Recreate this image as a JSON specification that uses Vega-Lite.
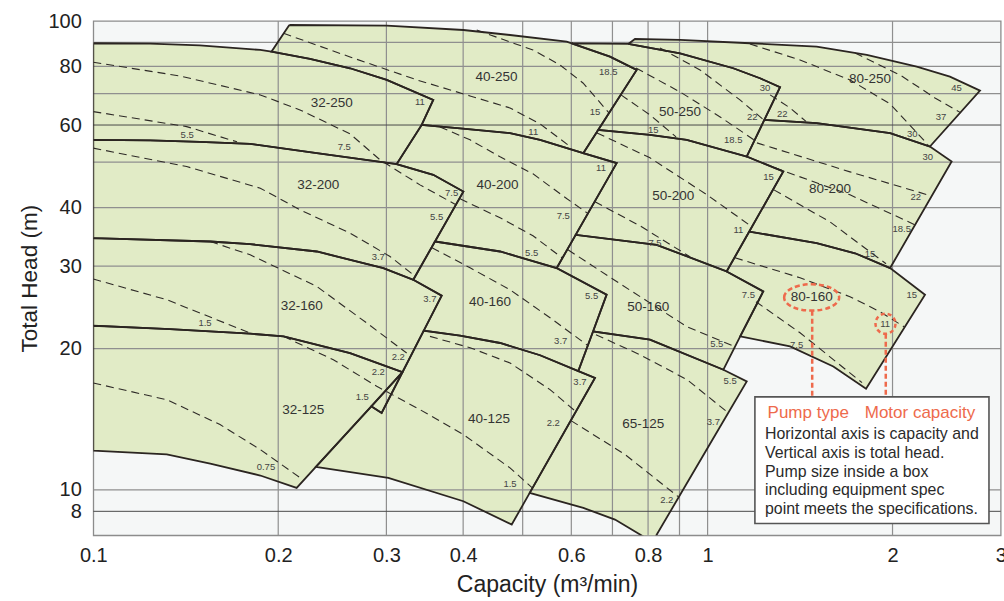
{
"$schema": "https://vega.github.io/schema/vega-lite/v6.json",
"width": 907.4, "height": 514.3,
"autosize": "none",
"padding": {"left": 93.3, "top": 21, "right": 3.3, "bottom": 65.7},
"background": "#ffffff",
"config": {"view": {"fill": "#f5f7f7", "stroke": "#8c8c8c", "strokeWidth": 1.3}, "font": "Liberation Sans"},
"datasets": {
"poly": [
{"pump":"32-250","i":0,"q":0.1,"h":89.65},{"pump":"32-250","i":1,"q":0.1237,"h":89.46},{"pump":"32-250","i":2,"q":0.149,"h":88.76},{"pump":"32-250","i":3,"q":0.187,"h":86.74},{"pump":"32-250","i":4,"q":0.195,"h":86.01},{"pump":"32-250","i":5,"q":0.2253,"h":83.0},{"pump":"32-250","i":6,"q":0.2618,"h":79.29},{"pump":"32-250","i":7,"q":0.3004,"h":74.87},{"pump":"32-250","i":8,"q":0.3576,"h":67.87},{"pump":"32-250","i":9,"q":0.3424,"h":60.03},{"pump":"32-250","i":10,"q":0.3118,"h":49.52},{"pump":"32-250","i":11,"q":0.2311,"h":52.26},{"pump":"32-250","i":12,"q":0.18,"h":54.7},{"pump":"32-250","i":13,"q":0.149,"h":55.24},{"pump":"32-250","i":14,"q":0.1237,"h":55.65},{"pump":"32-250","i":15,"q":0.1,"h":55.78},{"pump":"32-250","i":16,"q":0.1,"h":89.65},
{"pump":"32-200","i":0,"q":0.1,"h":55.78},{"pump":"32-200","i":1,"q":0.1237,"h":55.65},{"pump":"32-200","i":2,"q":0.149,"h":55.24},{"pump":"32-200","i":3,"q":0.18,"h":54.7},{"pump":"32-200","i":4,"q":0.2311,"h":52.26},{"pump":"32-200","i":5,"q":0.3118,"h":49.52},{"pump":"32-200","i":6,"q":0.3576,"h":46.98},{"pump":"32-200","i":7,"q":0.4003,"h":43.27},{"pump":"32-200","i":8,"q":0.3599,"h":33.86},{"pump":"32-200","i":9,"q":0.3318,"h":28.06},{"pump":"32-200","i":10,"q":0.2966,"h":29.72},{"pump":"32-200","i":11,"q":0.2311,"h":32.24},{"pump":"32-200","i":12,"q":0.18,"h":33.43},{"pump":"32-200","i":13,"q":0.155,"h":33.86},{"pump":"32-200","i":14,"q":0.1,"h":34.43},{"pump":"32-200","i":15,"q":0.1,"h":55.78},
{"pump":"32-160","i":0,"q":0.1,"h":34.43},{"pump":"32-160","i":1,"q":0.155,"h":33.86},{"pump":"32-160","i":2,"q":0.18,"h":33.43},{"pump":"32-160","i":3,"q":0.2311,"h":32.24},{"pump":"32-160","i":4,"q":0.2966,"h":29.72},{"pump":"32-160","i":5,"q":0.3318,"h":28.06},{"pump":"32-160","i":6,"q":0.3691,"h":25.95},{"pump":"32-160","i":7,"q":0.3451,"h":21.85},{"pump":"32-160","i":8,"q":0.3186,"h":17.82},{"pump":"32-160","i":9,"q":0.2947,"h":14.59},{"pump":"32-160","i":10,"q":0.2835,"h":15.07},{"pump":"32-160","i":11,"q":0.3186,"h":17.82},{"pump":"32-160","i":12,"q":0.2618,"h":19.58},{"pump":"32-160","i":13,"q":0.204,"h":21.25},{"pump":"32-160","i":14,"q":0.18,"h":21.53},{"pump":"32-160","i":15,"q":0.1333,"h":22.01},{"pump":"32-160","i":16,"q":0.1,"h":22.39},{"pump":"32-160","i":17,"q":0.1,"h":34.43},
{"pump":"32-125","i":0,"q":0.1,"h":22.39},{"pump":"32-125","i":1,"q":0.1333,"h":22.01},{"pump":"32-125","i":2,"q":0.18,"h":21.53},{"pump":"32-125","i":3,"q":0.204,"h":21.25},{"pump":"32-125","i":4,"q":0.2618,"h":19.58},{"pump":"32-125","i":5,"q":0.3186,"h":17.82},{"pump":"32-125","i":6,"q":0.2835,"h":15.07},{"pump":"32-125","i":7,"q":0.2303,"h":11.19},{"pump":"32-125","i":8,"q":0.2143,"h":10.1},{"pump":"32-125","i":9,"q":0.187,"h":10.73},{"pump":"32-125","i":10,"q":0.155,"h":11.37},{"pump":"32-125","i":11,"q":0.1317,"h":11.9},{"pump":"32-125","i":12,"q":0.1,"h":12.13},{"pump":"32-125","i":13,"q":0.1,"h":22.39},
{"pump":"40-250","i":0,"q":0.2085,"h":98.06},{"pump":"40-250","i":1,"q":0.3004,"h":97.72},{"pump":"40-250","i":2,"q":0.4003,"h":95.68},{"pump":"40-250","i":3,"q":0.4768,"h":93.36},{"pump":"40-250","i":4,"q":0.5896,"h":90.34},{"pump":"40-250","i":5,"q":0.6008,"h":89.6},{"pump":"40-250","i":6,"q":0.6935,"h":83.94},{"pump":"40-250","i":7,"q":0.7666,"h":78.64},{"pump":"40-250","i":8,"q":0.6635,"h":58.58},{"pump":"40-250","i":9,"q":0.6275,"h":52.26},{"pump":"40-250","i":10,"q":0.5337,"h":55.78},{"pump":"40-250","i":11,"q":0.4768,"h":57.64},{"pump":"40-250","i":12,"q":0.3954,"h":59.01},{"pump":"40-250","i":13,"q":0.3424,"h":60.03},{"pump":"40-250","i":14,"q":0.3576,"h":67.87},{"pump":"40-250","i":15,"q":0.3004,"h":74.87},{"pump":"40-250","i":16,"q":0.2618,"h":79.29},{"pump":"40-250","i":17,"q":0.2253,"h":83.0},{"pump":"40-250","i":18,"q":0.195,"h":86.01},{"pump":"40-250","i":19,"q":0.2085,"h":98.06},
{"pump":"40-200","i":0,"q":0.3424,"h":60.03},{"pump":"40-200","i":1,"q":0.3954,"h":59.01},{"pump":"40-200","i":2,"q":0.4768,"h":57.64},{"pump":"40-200","i":3,"q":0.5337,"h":55.78},{"pump":"40-200","i":4,"q":0.6275,"h":52.26},{"pump":"40-200","i":5,"q":0.7112,"h":49.76},{"pump":"40-200","i":6,"q":0.6099,"h":34.99},{"pump":"40-200","i":7,"q":0.568,"h":29.72},{"pump":"40-200","i":8,"q":0.4594,"h":32.24},{"pump":"40-200","i":9,"q":0.3599,"h":33.86},{"pump":"40-200","i":10,"q":0.4003,"h":43.27},{"pump":"40-200","i":11,"q":0.3576,"h":46.98},{"pump":"40-200","i":12,"q":0.3118,"h":49.52},{"pump":"40-200","i":13,"q":0.3424,"h":60.03},
{"pump":"40-160","i":0,"q":0.3599,"h":33.86},{"pump":"40-160","i":1,"q":0.4594,"h":32.24},{"pump":"40-160","i":2,"q":0.568,"h":29.72},{"pump":"40-160","i":3,"q":0.6849,"h":26.08},{"pump":"40-160","i":4,"q":0.6509,"h":21.77},{"pump":"40-160","i":5,"q":0.6159,"h":17.92},{"pump":"40-160","i":6,"q":0.5337,"h":19.37},{"pump":"40-160","i":7,"q":0.4594,"h":20.57},{"pump":"40-160","i":8,"q":0.3954,"h":21.32},{"pump":"40-160","i":9,"q":0.3451,"h":21.85},{"pump":"40-160","i":10,"q":0.3691,"h":25.95},{"pump":"40-160","i":11,"q":0.3318,"h":28.06},{"pump":"40-160","i":12,"q":0.3599,"h":33.86},
{"pump":"40-125","i":0,"q":0.3451,"h":21.85},{"pump":"40-125","i":1,"q":0.3954,"h":21.32},{"pump":"40-125","i":2,"q":0.4594,"h":20.57},{"pump":"40-125","i":3,"q":0.5337,"h":19.37},{"pump":"40-125","i":4,"q":0.6159,"h":17.92},{"pump":"40-125","i":5,"q":0.6556,"h":17.32},{"pump":"40-125","i":6,"q":0.5134,"h":9.854},{"pump":"40-125","i":7,"q":0.4799,"h":8.434},{"pump":"40-125","i":8,"q":0.4003,"h":9.456},{"pump":"40-125","i":9,"q":0.3022,"h":10.61},{"pump":"40-125","i":10,"q":0.2303,"h":11.19},{"pump":"40-125","i":11,"q":0.2835,"h":15.07},{"pump":"40-125","i":12,"q":0.2947,"h":14.59},{"pump":"40-125","i":13,"q":0.3451,"h":21.85},
{"pump":"50-250","i":0,"q":0.6008,"h":89.6},{"pump":"50-250","i":1,"q":0.7428,"h":89.34},{"pump":"50-250","i":2,"q":0.9018,"h":85.34},{"pump":"50-250","i":3,"q":1.101,"h":79.29},{"pump":"50-250","i":4,"q":1.217,"h":75.5},{"pump":"50-250","i":5,"q":1.312,"h":72.24},{"pump":"50-250","i":6,"q":1.237,"h":61.52},{"pump":"50-250","i":7,"q":1.158,"h":51.4},{"pump":"50-250","i":8,"q":0.9247,"h":55.78},{"pump":"50-250","i":9,"q":0.8057,"h":57.17},{"pump":"50-250","i":10,"q":0.6635,"h":58.58},{"pump":"50-250","i":11,"q":0.7666,"h":78.64},{"pump":"50-250","i":12,"q":0.6935,"h":83.94},{"pump":"50-250","i":13,"q":0.6008,"h":89.6},
{"pump":"50-200","i":0,"q":0.6635,"h":58.58},{"pump":"50-200","i":1,"q":0.8057,"h":57.17},{"pump":"50-200","i":2,"q":0.9247,"h":55.78},{"pump":"50-200","i":3,"q":1.158,"h":51.4},{"pump":"50-200","i":4,"q":1.328,"h":47.75},{"pump":"50-200","i":5,"q":1.169,"h":35.56},{"pump":"50-200","i":6,"q":1.074,"h":29.23},{"pump":"50-200","i":7,"q":0.8262,"h":33.32},{"pump":"50-200","i":8,"q":0.6099,"h":34.99},{"pump":"50-200","i":9,"q":0.7112,"h":49.76},{"pump":"50-200","i":10,"q":0.6275,"h":52.26},{"pump":"50-200","i":11,"q":0.6635,"h":58.58},
{"pump":"50-160","i":0,"q":0.6099,"h":34.99},{"pump":"50-160","i":1,"q":0.8262,"h":33.32},{"pump":"50-160","i":2,"q":1.074,"h":29.23},{"pump":"50-160","i":3,"q":1.232,"h":26.5},{"pump":"50-160","i":4,"q":1.13,"h":21.25},{"pump":"50-160","i":5,"q":1.061,"h":18.04},{"pump":"50-160","i":6,"q":0.8057,"h":20.91},{"pump":"50-160","i":7,"q":0.6509,"h":21.77},{"pump":"50-160","i":8,"q":0.6849,"h":26.08},{"pump":"50-160","i":9,"q":0.568,"h":29.72},{"pump":"50-160","i":10,"q":0.6099,"h":34.99},
{"pump":"65-125","i":0,"q":0.6509,"h":21.77},{"pump":"65-125","i":1,"q":0.8057,"h":20.91},{"pump":"65-125","i":2,"q":1.061,"h":18.04},{"pump":"65-125","i":3,"q":1.158,"h":17.04},{"pump":"65-125","i":4,"q":0.9966,"h":12.19},{"pump":"65-125","i":5,"q":0.813,"h":7.74},{"pump":"65-125","i":6,"q":0.7762,"h":8.03},{"pump":"65-125","i":7,"q":0.7067,"h":8.643},{"pump":"65-125","i":8,"q":0.6275,"h":9.154},{"pump":"65-125","i":9,"q":0.5134,"h":9.854},{"pump":"65-125","i":10,"q":0.6556,"h":17.32},{"pump":"65-125","i":11,"q":0.6159,"h":17.92},{"pump":"65-125","i":12,"q":0.6509,"h":21.77},
{"pump":"80-250","i":0,"q":0.7428,"h":89.34},{"pump":"80-250","i":1,"q":0.7617,"h":91.55},{"pump":"80-250","i":2,"q":0.9018,"h":91.11},{"pump":"80-250","i":3,"q":1.172,"h":89.65},{"pump":"80-250","i":4,"q":1.505,"h":88.15},{"pump":"80-250","i":5,"q":1.816,"h":84.64},{"pump":"80-250","i":6,"q":2.19,"h":79.92},{"pump":"80-250","i":7,"q":2.48,"h":76.09},{"pump":"80-250","i":8,"q":2.776,"h":71.05},{"pump":"80-250","i":9,"q":2.301,"h":53.98},{"pump":"80-250","i":10,"q":1.982,"h":57.64},{"pump":"80-250","i":11,"q":1.505,"h":60.54},{"pump":"80-250","i":12,"q":1.237,"h":61.52},{"pump":"80-250","i":13,"q":1.312,"h":72.24},{"pump":"80-250","i":14,"q":1.217,"h":75.5},{"pump":"80-250","i":15,"q":1.101,"h":79.29},{"pump":"80-250","i":16,"q":0.9018,"h":85.34},{"pump":"80-250","i":17,"q":0.7428,"h":89.34},
{"pump":"80-200","i":0,"q":1.237,"h":61.52},{"pump":"80-200","i":1,"q":1.505,"h":60.54},{"pump":"80-200","i":2,"q":1.982,"h":57.64},{"pump":"80-200","i":3,"q":2.301,"h":53.98},{"pump":"80-200","i":4,"q":2.496,"h":50.15},{"pump":"80-200","i":5,"q":1.982,"h":29.72},{"pump":"80-200","i":6,"q":1.738,"h":31.96},{"pump":"80-200","i":7,"q":1.505,"h":33.6},{"pump":"80-200","i":8,"q":1.169,"h":35.56},{"pump":"80-200","i":9,"q":1.328,"h":47.75},{"pump":"80-200","i":10,"q":1.158,"h":51.4},{"pump":"80-200","i":11,"q":1.237,"h":61.52},
{"pump":"80-160","i":0,"q":1.169,"h":35.56},{"pump":"80-160","i":1,"q":1.505,"h":33.6},{"pump":"80-160","i":2,"q":1.738,"h":31.96},{"pump":"80-160","i":3,"q":1.982,"h":29.72},{"pump":"80-160","i":4,"q":2.259,"h":26.08},{"pump":"80-160","i":5,"q":1.811,"h":16.43},{"pump":"80-160","i":6,"q":1.602,"h":18.33},{"pump":"80-160","i":7,"q":1.362,"h":20.23},{"pump":"80-160","i":8,"q":1.13,"h":21.25},{"pump":"80-160","i":9,"q":1.232,"h":26.5},{"pump":"80-160","i":10,"q":1.074,"h":29.23},{"pump":"80-160","i":11,"q":1.169,"h":35.56}
],
"vgrid": [{"q":0.2,"h":8,"h2":100},{"q":0.3,"h":8,"h2":100},{"q":0.4,"h":8,"h2":100},{"q":0.5,"h":8,"h2":100},{"q":0.6,"h":8,"h2":100},{"q":0.7,"h":8,"h2":100},{"q":0.8,"h":8,"h2":100},{"q":0.9,"h":8,"h2":100},{"q":1,"h":8,"h2":100},{"q":2,"h":8,"h2":100}],
"hgrid": [{"h":90,"q":0.1,"q2":3},{"h":80,"q":0.1,"q2":3},{"h":70,"q":0.1,"q2":3},{"h":50,"q":0.1,"q2":3},{"h":40,"q":0.1,"q2":3},{"h":30,"q":0.1,"q2":3},{"h":20,"q":0.1,"q2":3},{"h":10,"q":0.1,"q2":3}],
"hgridDark": [{"h":60,"q":0.1,"q2":3},{"h":9,"q":0.1,"q2":3}],
"dash": [
{"id":"d1","i":0,"q":0.1,"h":81.66},{"id":"d1","i":1,"q":0.1384,"h":76.35},{"id":"d1","i":2,"q":0.187,"h":69.56},{"id":"d1","i":3,"q":0.217,"h":64.62},{"id":"d1","i":4,"q":0.2618,"h":57.45},{"id":"d1","i":5,"q":0.2929,"h":50.57},{"id":"d1","i":6,"q":0.3402,"h":44.72},{"id":"d1","i":7,"q":0.3894,"h":40.55},
{"id":"d2","i":0,"q":0.1,"h":64.09},{"id":"d2","i":1,"q":0.1419,"h":59.53},{"id":"d2","i":2,"q":0.1714,"h":55.24},
{"id":"d3","i":0,"q":0.1,"h":53.56},{"id":"d3","i":1,"q":0.1419,"h":48.93},{"id":"d3","i":2,"q":0.187,"h":44.0},{"id":"d3","i":3,"q":0.217,"h":39.56},{"id":"d3","i":4,"q":0.2618,"h":35.28},{"id":"d3","i":5,"q":0.3041,"h":31.46},{"id":"d3","i":6,"q":0.3318,"h":28.76},
{"id":"d5","i":0,"q":0.1,"h":28.16},{"id":"d5","i":1,"q":0.1317,"h":25.44},{"id":"d5","i":2,"q":0.18,"h":21.6},
{"id":"d6","i":0,"q":0.155,"h":33.86},{"id":"d6","i":1,"q":0.18,"h":31.72},{"id":"d6","i":2,"q":0.2311,"h":27.16},{"id":"d6","i":3,"q":0.2787,"h":22.69},{"id":"d6","i":4,"q":0.3237,"h":19.58},
{"id":"d7","i":0,"q":0.204,"h":21.25},{"id":"d7","i":1,"q":0.2459,"h":18.95},{"id":"d7","i":2,"q":0.2893,"h":16.63},{"id":"d7","i":3,"q":0.3402,"h":14.83},{"id":"d7","i":4,"q":0.4003,"h":13.12},{"id":"d7","i":5,"q":0.4768,"h":11.14},{"id":"d7","i":6,"q":0.5178,"h":10.11},
{"id":"d8","i":0,"q":0.1,"h":16.9},{"id":"d8","i":1,"q":0.1317,"h":15.57},{"id":"d8","i":2,"q":0.1608,"h":13.78},{"id":"d8","i":3,"q":0.187,"h":12.19},{"id":"d8","i":4,"q":0.217,"h":10.62},
{"id":"d9","i":0,"q":0.204,"h":94.14},{"id":"d9","i":1,"q":0.2618,"h":83.81},{"id":"d9","i":2,"q":0.3364,"h":74.87},{"id":"d9","i":3,"q":0.4105,"h":69.22},{"id":"d9","i":4,"q":0.4768,"h":65.26},{"id":"d9","i":5,"q":0.5337,"h":60.32},{"id":"d9","i":6,"q":0.5925,"h":54.43},
{"id":"d10","i":0,"q":0.4209,"h":95.68},{"id":"d10","i":1,"q":0.4768,"h":90.2},{"id":"d10","i":2,"q":0.5197,"h":86.74},{"id":"d10","i":3,"q":0.575,"h":80.59},{"id":"d10","i":4,"q":0.6268,"h":73.77},{"id":"d10","i":5,"q":0.691,"h":63.68},
{"id":"d11","i":0,"q":0.3667,"h":59.44},{"id":"d11","i":1,"q":0.4105,"h":55.78},{"id":"d11","i":2,"q":0.4594,"h":51.32},{"id":"d11","i":3,"q":0.5197,"h":47.21},{"id":"d11","i":4,"q":0.5903,"h":41.76},{"id":"d11","i":5,"q":0.6363,"h":38.98},
{"id":"d12","i":0,"q":0.3954,"h":41.76},{"id":"d12","i":1,"q":0.4594,"h":38.04},{"id":"d12","i":2,"q":0.5197,"h":34.83},{"id":"d12","i":3,"q":0.5794,"h":31.26},
{"id":"d13","i":0,"q":0.3559,"h":32.84},{"id":"d13","i":1,"q":0.4105,"h":29.76},{"id":"d13","i":2,"q":0.4768,"h":26.72},{"id":"d13","i":3,"q":0.554,"h":23.29},{"id":"d13","i":4,"q":0.6387,"h":20.3},
{"id":"d14","i":0,"q":0.3532,"h":21.25},{"id":"d14","i":1,"q":0.4105,"h":20.1},{"id":"d14","i":2,"q":0.4768,"h":18.65},{"id":"d14","i":3,"q":0.554,"h":16.36},{"id":"d14","i":4,"q":0.6106,"h":14.68},
{"id":"d15","i":0,"q":0.6607,"h":57.72},{"id":"d15","i":1,"q":0.8057,"h":51.07},{"id":"d15","i":2,"q":0.9977,"h":42.59},{"id":"d15","i":3,"q":1.181,"h":36.39},
{"id":"d16","i":0,"q":0.6556,"h":41.15},{"id":"d16","i":1,"q":0.7762,"h":36.57},{"id":"d16","i":2,"q":0.936,"h":31.42},
{"id":"d17","i":0,"q":0.5925,"h":32.51},{"id":"d17","i":1,"q":0.7201,"h":27.52},{"id":"d17","i":2,"q":0.9258,"h":22.28},{"id":"d17","i":3,"q":1.108,"h":20.2},
{"id":"d18","i":0,"q":0.658,"h":21.42},{"id":"d18","i":1,"q":0.7762,"h":19.42},{"id":"d18","i":2,"q":0.9258,"h":17.18},{"id":"d18","i":3,"q":1.075,"h":14.68},
{"id":"d19","i":0,"q":0.5992,"h":14.05},{"id":"d19","i":1,"q":0.7337,"h":11.9},{"id":"d19","i":2,"q":0.895,"h":9.677},
{"id":"d20","i":0,"q":1.108,"h":31.26},{"id":"d20","i":1,"q":1.414,"h":28.34},{"id":"d20","i":2,"q":1.705,"h":25.82},{"id":"d20","i":3,"q":1.908,"h":23.99},{"id":"d20","i":4,"q":2.088,"h":22.28},
{"id":"d21","i":0,"q":1.199,"h":25.19},{"id":"d21","i":1,"q":1.414,"h":21.63},{"id":"d21","i":2,"q":1.784,"h":16.93},
{"id":"d22","i":0,"q":0.8366,"h":87.59},{"id":"d22","i":1,"q":0.9719,"h":78.64},{"id":"d22","i":2,"q":1.129,"h":67.87},{"id":"d22","i":3,"q":1.24,"h":61.22},
{"id":"d23","i":0,"q":0.7645,"h":79.41},{"id":"d23","i":1,"q":0.9018,"h":70.59},{"id":"d23","i":2,"q":1.048,"h":62.43},{"id":"d23","i":3,"q":1.19,"h":55.78},
{"id":"d24","i":0,"q":0.7228,"h":69.56},{"id":"d24","i":1,"q":0.8057,"h":63.06},{"id":"d24","i":2,"q":0.8885,"h":56.6},
{"id":"d25","i":0,"q":1.172,"h":89.34},{"id":"d25","i":1,"q":1.414,"h":82.57},{"id":"d25","i":2,"q":1.705,"h":74.87},{"id":"d25","i":3,"q":1.982,"h":66.55},{"id":"d25","i":4,"q":2.285,"h":54.43},
{"id":"d26","i":0,"q":1.738,"h":85.46},{"id":"d26","i":1,"q":2.057,"h":76.71},{"id":"d26","i":2,"q":2.345,"h":68.54},{"id":"d26","i":3,"q":2.585,"h":63.68},
{"id":"d27","i":0,"q":1.264,"h":69.56},{"id":"d27","i":1,"q":1.362,"h":65.26},{"id":"d27","i":2,"q":1.446,"h":61.07},
{"id":"d28","i":0,"q":1.203,"h":54.96},{"id":"d28","i":1,"q":1.705,"h":47.67},{"id":"d28","i":2,"q":2.31,"h":42.38},
{"id":"d29","i":0,"q":1.287,"h":48.62},{"id":"d29","i":1,"q":1.705,"h":42.59},{"id":"d29","i":2,"q":2.176,"h":36.75},
{"id":"d30","i":0,"q":1.282,"h":43.63},{"id":"d30","i":1,"q":1.582,"h":37.29},{"id":"d30","i":2,"q":1.952,"h":30.35}
],
"plab": [
{"t":"32-250","q":0.2444,"h":66.78},{"t":"32-200","q":0.2324,"h":44.72},{"t":"32-160","q":0.2184,"h":24.62},{"t":"32-125","q":0.2197,"h":14.83},
{"t":"40-250","q":0.4533,"h":75.98},{"t":"40-200","q":0.455,"h":44.72},{"t":"40-160","q":0.4424,"h":25.15},{"t":"40-125","q":0.4407,"h":14.17},
{"t":"50-250","q":0.9018,"h":63.9},{"t":"50-200","q":0.8795,"h":42.38},{"t":"50-160","q":0.8006,"h":24.55},{"t":"65-125","q":0.7859,"h":13.84},
{"t":"80-250","q":1.838,"h":75.23},{"t":"80-200","q":1.582,"h":43.85},{"t":"80-160","q":1.477,"h":25.73}
],
"mlab": [
{"t":"5.5","q":0.1422,"h":57.17},{"t":"11","q":0.3402,"h":67.31},{"t":"7.5","q":0.2562,"h":53.98},
{"t":"7.5","q":0.3832,"h":42.9},{"t":"5.5","q":0.3622,"h":38.17},{"t":"3.7","q":0.291,"h":31.37},
{"t":"3.7","q":0.3532,"h":25.53},{"t":"2.2","q":0.3137,"h":19.2},{"t":"1.5","q":0.152,"h":22.69},
{"t":"2.2","q":0.291,"h":17.81},{"t":"1.5","q":0.2741,"h":15.79},{"t":"0.75","q":0.191,"h":11.21},
{"t":"18.5","q":0.6891,"h":77.98},{"t":"15","q":0.6556,"h":64.09},{"t":"11","q":0.5203,"h":58.09},
{"t":"11","q":0.6706,"h":48.55},{"t":"7.5","q":0.5822,"h":38.47},{"t":"5.5","q":0.5172,"h":32.08},
{"t":"5.5","q":0.6476,"h":25.86},{"t":"3.7","q":0.5766,"h":20.8},
{"t":"3.7","q":0.6198,"h":16.96},{"t":"2.2","q":0.5608,"h":13.89},{"t":"1.5","q":0.4768,"h":10.31},
{"t":"15","q":0.8158,"h":58.58},{"t":"18.5","q":1.101,"h":55.78},{"t":"22","q":1.182,"h":62.34},{"t":"30","q":1.24,"h":71.89},
{"t":"15","q":1.256,"h":46.58},{"t":"11","q":1.122,"h":35.86},{"t":"7.5","q":0.8211,"h":33.6},
{"t":"7.5","q":1.165,"h":26.08},{"t":"5.5","q":1.035,"h":20.5},
{"t":"5.5","q":1.088,"h":17.04},{"t":"3.7","q":1.022,"h":13.93},{"t":"2.2","q":0.858,"h":9.535},
{"t":"22","q":1.323,"h":63.37},{"t":"45","q":2.543,"h":71.89},{"t":"37","q":2.399,"h":62.34},{"t":"30","q":2.154,"h":57.45},
{"t":"30","q":2.282,"h":51.4},{"t":"22","q":2.182,"h":42.07},{"t":"18.5","q":2.07,"h":36.06},{"t":"15","q":1.838,"h":31.88},
{"t":"15","q":2.149,"h":26.08},{"t":"11","q":1.945,"h":22.61},{"t":"7.5","q":1.396,"h":20.4}
],
"box": [{"q":1.194,"q2":2.871,"h":15.79,"h2":8.477}],
"boxtxt": [
{"t":"Horizontal axis is capacity and","q":1.24,"h":13.18},
{"t":"Vertical axis is total head.","q":1.24,"h":11.99},
{"t":"Pump size inside a box","q":1.24,"h":10.9},
{"t":"including equipment spec","q":1.24,"h":9.98},
{"t":"point meets the specifications.","q":1.24,"h":9.109}
],
"redtxt": [{"t":"Pump type","q":1.458,"h":14.59},{"t":"Motor capacity","q":2.217,"h":14.59}],
"ell": [{"q":1.477,"h":25.73}],
"circ": [{"q":1.948,"h":22.61}],
"redrule": [{"q":1.48,"h":24.1,"h2":15.79},{"q":1.95,"h":21.53,"h2":15.79}]
},
"encoding": {
"x": {"field":"q","type":"quantitative","scale":{"type":"log","domain":[0.1,3],"nice":false},
 "axis":{"title":"Capacity (m³/min)","values":[0.1,0.2,0.3,0.4,0.6,0.8,1,2,3],"format":"~g","grid":false,"ticks":false,"domain":false,"labelFontSize":20,"labelColor":"#222222","labelPadding":10,"labelFlush":false,"titleFontSize":23,"titleFontWeight":"normal","titleColor":"#222222","titlePadding":8}},
"y": {"field":"h","type":"quantitative","scale":{"type":"log","domain":[8,100],"nice":false},
 "axis":{"title":"Total Head (m)","values":[9,10,20,30,40,60,80,100],"labelExpr":"datum.value == 9 ? '8' : datum.label","format":"~g","grid":false,"ticks":false,"domain":false,"labelFontSize":20,"labelColor":"#222222","labelPadding":12,"labelFlush":false,"titleFontSize":22.5,"titleFontWeight":"normal","titleColor":"#222222","titlePadding":6}}
},
"layer": [
{"data":{"name":"poly"},"mark":{"type":"line","fill":"#e1ebc6","stroke":"transparent","strokeWidth":0,"clip":true},
 "encoding":{"detail":{"field":"pump"},"order":{"field":"i","type":"quantitative"}}},
{"data":{"name":"vgrid"},"mark":{"type":"rule","stroke":"#8f8f8f","strokeWidth":1.2},"encoding":{"y2":{"field":"h2"}}},
{"data":{"name":"hgrid"},"mark":{"type":"rule","stroke":"#8f8f8f","strokeWidth":1.2},"encoding":{"x2":{"field":"q2"}}},
{"data":{"name":"hgridDark"},"mark":{"type":"rule","stroke":"#4a4a4a","strokeWidth":1},"encoding":{"x2":{"field":"q2"}}},
{"data":{"name":"dash"},"mark":{"type":"line","stroke":"#2e2a27","strokeWidth":1.1,"strokeDash":[8,5],"clip":true},
 "encoding":{"detail":{"field":"id"},"order":{"field":"i","type":"quantitative"}}},
{"data":{"name":"poly"},"mark":{"type":"line","stroke":"#2b2521","strokeWidth":1.8,"clip":true},
 "encoding":{"detail":{"field":"pump"},"order":{"field":"i","type":"quantitative"}}},
{"data":{"name":"plab"},"mark":{"type":"text","fontSize":13.5,"color":"#333333","align":"center","baseline":"middle"},"encoding":{"text":{"field":"t"}}},
{"data":{"name":"mlab"},"mark":{"type":"text","fontSize":9.5,"color":"#444444","align":"center","baseline":"middle"},"encoding":{"text":{"field":"t"}}},
{"data":{"name":"redrule"},"mark":{"type":"rule","stroke":"#ee6a4c","strokeWidth":2.5,"strokeDash":[5,3]},"encoding":{"y2":{"field":"h2"}}},
{"data":{"name":"ell"},"mark":{"type":"point","shape":"M-1,0A1,0.48,0,1,1,1,0A1,0.48,0,1,1,-1,0Z","size":3025,"filled":false,"stroke":"#ee6a4c","strokeWidth":2.5,"strokeDash":[5,3],"opacity":1}},
{"data":{"name":"circ"},"mark":{"type":"point","shape":"circle","size":400,"filled":false,"stroke":"#ee6a4c","strokeWidth":2.5,"strokeDash":[4,3],"opacity":1}},
{"data":{"name":"box"},"mark":{"type":"rect","fill":"#ffffff","stroke":"#555555","strokeWidth":1.6},"encoding":{"x2":{"field":"q2"},"y2":{"field":"h2"}}},
{"data":{"name":"redtxt"},"mark":{"type":"text","fontSize":17,"color":"#ee6a4c","align":"center","baseline":"middle"},"encoding":{"text":{"field":"t"}}},
{"data":{"name":"boxtxt"},"mark":{"type":"text","fontSize":15.9,"color":"#2a2a2a","align":"left","baseline":"middle"},"encoding":{"text":{"field":"t"}}}
]
}
